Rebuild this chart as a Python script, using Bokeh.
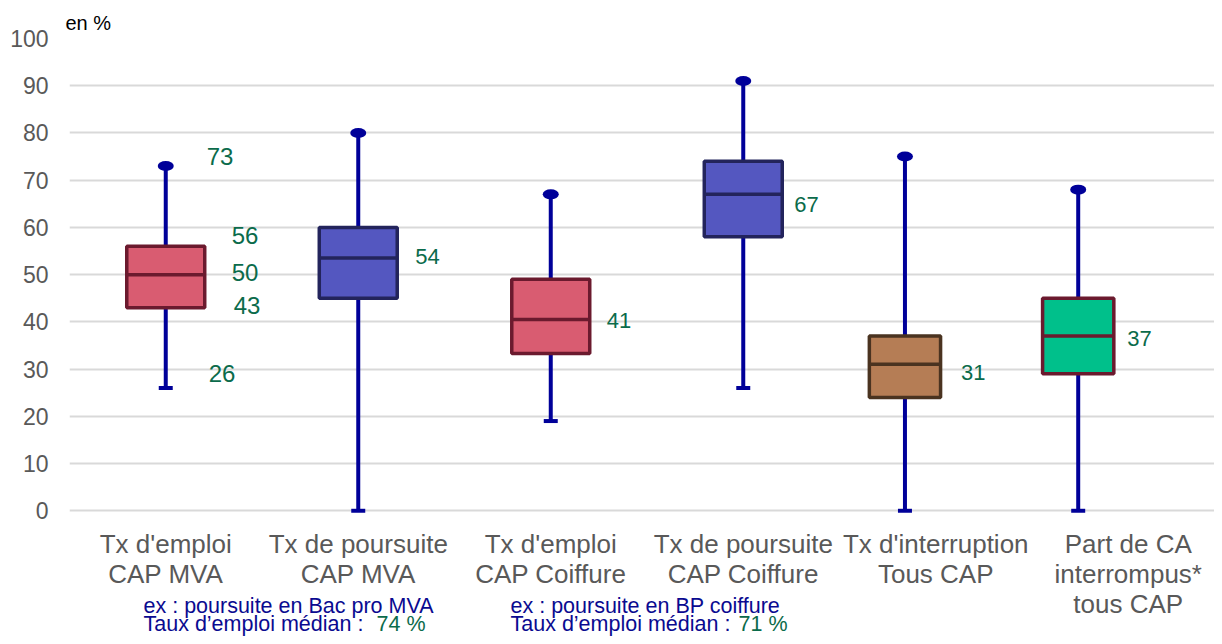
from bokeh.plotting import figure
from bokeh.layouts import column
from bokeh.models import Range1d, FixedTicker, ColumnDataSource, Title
from bokeh.embed import file_html
from bokeh.resources import INLINE
from bokeh.core.properties import value

# ---------------- data ----------------
categories = [
    "Tx d'emploi\nCAP MVA",
    "Tx de poursuite\nCAP MVA",
    "Tx d'emploi\nCAP Coiffure",
    "Tx de poursuite\nCAP Coiffure",
    "Tx d'interruption\nTous CAP",
    "Part de CA\ninterrompus*\ntous CAP",
]
mins = [26, 0, 19, 26, 0, 0]
q1 = [43, 45, 33.3, 58, 24, 29]
medians = [50, 53.5, 40.5, 67, 31, 37]
q3 = [56, 60, 49, 74, 37, 45]
maxs = [73, 80, 67, 91, 75, 68]
y_ticks = [0, 10, 20, 30, 40, 50, 60, 70, 80, 90, 100]
unit_label = "en %"

note_lines = ["ex : poursuite en Bac pro MVA", "Taux d\u2019emploi médian : ",
              "ex : poursuite en BP coiffure", "Taux d\u2019emploi médian : "]
note_values = ["74 %", "71 %"]

# ---------------- layout / style ----------------
FONT = "Liberation Sans"
W, H = 1214, 636
LEFT = 69
box_shift = [0.0, 0.0, 0.0, 0.0, -0.16, -0.26]
box_w = [0.405, 0.405, 0.405, 0.405, 0.37, 0.37]
fills = ["#D95C71", "#5457C0", "#D95C71", "#5457C0", "#B57D55", "#00C08B"]
borders = ["#6B1A2E", "#23245C", "#6B1A2E", "#23245C", "#4A3320", "#6B1A2E"]
WHISK = "#000099"
GREEN = "#0B6B4B"
NAVY = "#0A0A90"
GRAY = "#595959"

n = len(categories)
box_x = [i + box_shift[i] for i in range(n)]

p = figure(width=W, height=H, output_backend="svg", toolbar_location=None,
           x_range=Range1d(-0.5, 5.448), y_range=Range1d(-1, 100),
           min_border_left=LEFT, min_border_right=0, min_border_top=38, min_border_bottom=121)
p.title.visible = False
p.outline_line_color = None
p.background_fill_color = "white"
p.border_fill_color = "white"

p.add_layout(Title(text=unit_label, align="left", offset=-4, standoff=10,
                   text_font=FONT, text_font_size="20px", text_font_style="normal",
                   text_color="black"), "above")

# axes
p.yaxis.ticker = FixedTicker(ticks=y_ticks)
p.yaxis.axis_line_color = None
p.yaxis.major_tick_line_color = None
p.yaxis.minor_tick_line_color = None
p.yaxis.major_tick_out = 0
p.yaxis.major_label_standoff = 21
p.yaxis.major_label_text_font = FONT
p.yaxis.major_label_text_font_size = "23px"
p.yaxis.major_label_text_color = GRAY

p.xaxis.ticker = FixedTicker(ticks=list(range(n)))
p.xaxis.major_label_overrides = {i: categories[i] for i in range(n)}
p.xaxis.axis_line_color = None
p.xaxis.major_tick_line_color = None
p.xaxis.minor_tick_line_color = None
p.xaxis.major_tick_out = 0
p.xaxis.major_label_standoff = 13
p.xaxis.major_label_text_font = FONT
p.xaxis.major_label_text_font_size = "26px"
p.xaxis.major_label_text_color = GRAY
p.xaxis.major_label_text_line_height = 1.0

p.xgrid.visible = False
p.ygrid.grid_line_color = "#D9D9D9"
p.ygrid.grid_line_width = 2

# whiskers
src = ColumnDataSource(dict(x=box_x, w=box_w, mn=mins, q1=q1, med=medians, q3=q3, mx=maxs,
                            fill=fills, border=borders,
                            xl=[box_x[i] - box_w[i] / 2 for i in range(n)],
                            xr=[box_x[i] + box_w[i] / 2 for i in range(n)]))
p.segment(x0="x", y0="mn", x1="x", y1="q1", source=src, line_color=WHISK, line_width=4)
p.segment(x0="x", y0="q3", x1="x", y1="mx", source=src, line_color=WHISK, line_width=4)
p.ellipse(x="x", y="mx", width=16, height=10, width_units="screen", height_units="screen",
          source=src, fill_color=WHISK, line_color=None)
p.rect(x="x", y="mn", width=14, height=4, width_units="screen", height_units="screen",
       source=src, fill_color=WHISK, line_color=None)

# boxes
p.vbar(x="x", width="w", bottom="q1", top="q3", source=src, fill_color="fill",
       line_color="border", line_width=3.5)
p.segment(x0="xl", y0="med", x1="xr", y1="med", source=src, line_color="border", line_width=3.5)

# value labels: first box (all stats)
first_vals = [maxs[0], q3[0], medians[0], q1[0], mins[0]]
lab1 = ColumnDataSource(dict(
    x=[box_x[0]] * 5, y=first_vals, t=[str(int(v + 0.5)) for v in first_vals],
    dx=[41, 66, 66, 68, 43], dy=[-10, -11, -2, -2, -14]))
p.text(x="x", y="y", text="t", x_offset="dx", y_offset="dy", source=lab1,
       text_font=value(FONT), text_font_size="24px", text_color=GREEN,
       text_align="left", text_baseline="middle")

# medians of the other boxes
lab2 = ColumnDataSource(dict(
    x=box_x[1:], y=medians[1:], t=[str(int(v + 0.5)) for v in medians[1:]],
    dx=[57, 56, 51, 56, 49], dy=[-2, 1, 10, 8, 2]))
p.text(x="x", y="y", text="t", x_offset="dx", y_offset="dy", source=lab2,
       text_font=value(FONT), text_font_size="22px", text_color=GREEN,
       text_align="left", text_baseline="middle")

# footnotes: transparent overlay strip over the bottom of the chart (pixel coordinates)
NH = 60
notes = figure(width=W, height=NH, output_backend="svg", toolbar_location=None,
               x_range=Range1d(LEFT, W), y_range=Range1d(0, NH),
               min_border_left=LEFT, min_border_right=0, min_border_top=0, min_border_bottom=0,
               x_axis_location=None, y_axis_location=None)
notes.title.visible = False
notes.grid.visible = False
notes.outline_line_color = None
notes.background_fill_color = None
notes.border_fill_color = None
notes.styles = {"margin-top": "-%dpx" % NH}

nsrc = ColumnDataSource(dict(x=[143, 143, 510, 510], y=[31, 13, 31, 13], t=note_lines))
notes.text(x="x", y="y", text="t", source=nsrc, text_font=value(FONT),
           text_font_size="21.5px", text_color=NAVY, text_align="left",
           text_baseline="alphabetic")
vsrc = ColumnDataSource(dict(x=[376, 738], y=[13, 13], t=note_values))
notes.text(x="x", y="y", text="t", source=vsrc, text_font=value(FONT),
           text_font_size="21.5px", text_color=GREEN, text_align="left",
           text_baseline="alphabetic")

layout = column(p, notes, spacing=0)
open("out.html", "w").write(file_html(layout, INLINE))
